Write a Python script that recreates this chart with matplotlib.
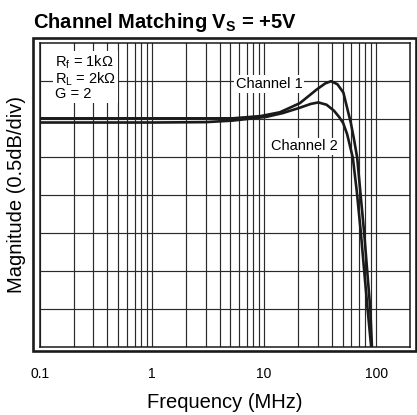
import matplotlib
matplotlib.use("Agg")
import matplotlib.pyplot as plt
from matplotlib.patches import Rectangle
from matplotlib.ticker import FixedLocator, NullFormatter

plt.rcParams['font.family'] = ['Liberation Sans', 'DejaVu Sans']
plt.rcParams['mathtext.default'] = 'regular'

# Frequency response of the two channels (MHz, dB relative to flat gain)
ch1_freq = [0.1, 1, 3, 5.2, 9.3, 13.8, 20.8, 29.4, 35, 39.5, 45, 50.9, 56.4,
            59.3, 63, 67.6, 72, 78, 83, 88.4, 91.5, 93]
ch1_db = [0.01, 0.01, 0.01, 0.01, 0.04, 0.09, 0.21, 0.39, 0.47, 0.50, 0.46,
          0.35, 0.08, -0.05, -0.25, -0.51, -0.95, -1.5, -2.0, -2.5, -3.0, -3.2]

ch2_freq = [0.1, 1, 3, 5.2, 10.5, 14.7, 20.8, 26, 30.4, 36, 42, 46.5, 50.6,
            55, 61.8, 67, 72.9, 78, 83.6, 90, 92]
ch2_db = [-0.045, -0.045, -0.04, -0.02, 0.03, 0.08, 0.15, 0.20, 0.22, 0.19,
          0.11, 0.03, -0.05, -0.2, -0.51, -0.95, -1.5, -2.0, -2.5, -3.0, -3.2]

x_ticks = [0.1, 1, 10, 100]
x_tick_labels = ['0.1', '1', '10', '100']
minor_grid = [m * d for d in (0.1, 1, 10, 100) for m in range(2, 10) if m * d < 200]

W, H = 417, 415
fig = plt.figure(figsize=(W / 100, H / 100), dpi=100)
ax = fig.add_axes([40 / W, 1 - 346.5 / H, 370 / W, 303.2 / H])

ax.set_xscale('log')
ax.set_xlim(0.1, 200)
ax.set_ylim(-3.0, 1.0)

grid_kw = dict(color='#2a2a2a', lw=0.85, zorder=1)
for f in x_ticks + minor_grid:
    ax.axvline(f, **grid_kw)
for y in [-2.5, -2.0, -1.5, -1.0, -0.5, 0.0, 0.5]:
    ax.axhline(y, **grid_kw)

ax.plot(ch1_freq, ch1_db, color='#1a1a1a', lw=1.9, zorder=3, solid_capstyle='butt')
ax.plot(ch2_freq, ch2_db, color='#1a1a1a', lw=1.9, zorder=3, solid_capstyle='butt')

ax.xaxis.set_major_locator(FixedLocator(x_ticks))
ax.set_xticklabels(x_tick_labels)
ax.xaxis.set_minor_formatter(NullFormatter())
ax.tick_params(axis='x', which='both', length=0, pad=15, labelsize=10)
ax.set_yticks([])
for s in ax.spines.values():
    s.set_linewidth(1.1)
    s.set_color('#1a1a1a')

box = dict(facecolor='white', edgecolor='none', pad=1.2)
note_kw = dict(fontsize=10.5, ha='left', va='baseline', bbox=box, zorder=4)
ax.text(0.136, 0.276, 'R$_f$ = 1k\u03a9\nR$_L$ = 2k\u03a9\nG = 2',
        linespacing=0.93, **note_kw)
ax.text(5.6, 0.41, 'Channel 1', **note_kw)
ax.text(11.6, -0.41, 'Channel 2', **note_kw)

fig.text(224.5 / W, 1 - 407.7 / H, 'Frequency (MHz)', fontsize=14.5,
         ha='center', va='baseline')
fig.text(16.5 / W, 1 - 194.5 / H, 'Magnitude (0.5dB/div)', fontsize=14.5,
         rotation=90, ha='center', va='center')
fig.text(33 / W, 1 - 28.3 / H, 'Channel Matching V$_S$ = +5V', fontsize=14.5,
         fontweight='bold', ha='left', va='baseline')

fig.patches.append(Rectangle((32.5 / W, 1 - 350.5 / H), 383 / W, 312 / H,
                             transform=fig.transFigure, fill=False,
                             edgecolor='#1a1a1a', lw=1.9))

fig.savefig('out.png', dpi=100)
